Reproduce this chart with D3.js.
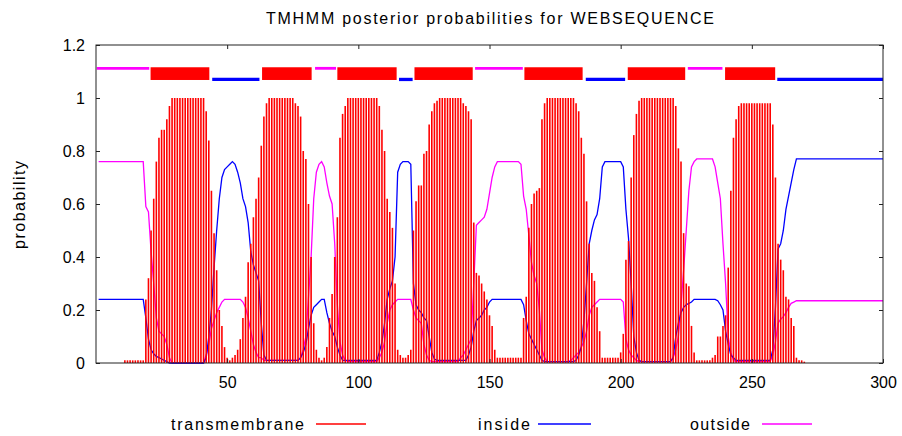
<!DOCTYPE html>
<html>
<head>
<meta charset="utf-8">
<script src="https://cdn.jsdelivr.net/npm/d3@7"></script>
<style>
body { margin: 0; background: #fff; }
svg { display: block; }
text { font-family: "Liberation Sans", Arial, sans-serif; fill: #000; }
</style>
</head>
<body>
<svg width="902" height="436"></svg>
<script>
// posterior probabilities per residue (1..300)
var tm = [
  0,0,0,0,0,0,0,0,0,0,
  .01,.01,.01,.01,.01,.01,.01,.01,.24,.32,
  .5,.62,.76,.85,.88,.88,.92,.97,1,1,
  1,1,1,1,1,1,1,1,1,1,
  1,.95,.84,.65,.49,.35,.2,.14,.06,.02,
  .01,.02,.03,.05,.09,.17,.25,.38,.45,.55,
  .62,.7,.82,.93,.98,1,1,1,1,1,
  1,1,1,1,1,.98,.97,.93,.8,.77,
  .6,.4,.15,.05,.02,.01,.02,.06,.17,.26,
  .4,.55,.85,.94,.97,1,1,1,1,1,
  1,1,1,1,1,1,1,.97,.88,.8,
  .62,.57,.51,.3,.05,.03,.02,.02,.03,.05,
  .5,.61,.67,.67,.79,.8,.9,.95,.98,.99,
  1,1,1,1,1,1,1,1,1,.98,
  .97,.95,.92,.53,.34,.33,.3,.27,.24,.18,
  .14,.05,.02,.02,.02,.02,.02,.02,.02,.02,
  .02,.02,.17,.25,.51,.6,.64,.65,.66,.92,
  .98,1,1,1,1,1,1,1,1,1,
  1,1,.98,.95,.85,.79,.61,.45,.34,.31,
  .21,.12,.02,.02,.02,.02,.02,.02,.02,.04,
  .11,.39,.46,.7,.86,.94,.99,1,1,1,
  1,1,1,1,1,1,1,1,1,1,
  .97,.81,.76,.49,.3,.29,.14,.04,.01,.01,
  .01,.01,.01,.01,.02,.03,.1,.1,.14,.18,
  .36,.65,.85,.92,.97,.98,.98,.98,.98,.98,
  .98,.98,.98,.98,.98,.98,.98,.9,.7,.45,
  .39,.35,.25,.24,.17,.14,.02,.01,.01,.005,
  0,0,0,0,0,0,0,0,0,0,
  0,0,0,0,0,0,0,0,0,0,
  0,0,0,0,0,0,0,0,0,0
];
var inside = [
  .24,.24,.24,.24,.24,.24,.24,.24,.24,.24,
  .24,.24,.24,.24,.24,.24,.24,.24,.17,.09,
  .05,.035,.025,.02,.015,.01,.005,0,0,0,
  0,0,0,0,0,0,0,0,0,0,
  0,.02,.1,.2,.36,.5,.62,.7,.73,.74,
  .75,.76,.75,.72,.68,.62,.59,.53,.42,.37,
  .34,.31,.15,.03,.01,.01,.01,.01,.01,.01,
  .01,.01,.01,.01,.01,.01,.01,.02,.04,.07,
  .13,.18,.21,.22,.23,.24,.24,.19,.15,.12,
  .1,.06,.03,.01,.01,.01,.01,.01,.01,.01,
  .01,.01,.01,.01,.01,.01,.01,.04,.08,.15,
  .24,.28,.31,.4,.72,.75,.76,.76,.76,.75,
  .3,.22,.2,.19,.17,.16,.1,.04,.015,.01,
  .01,.01,.01,.01,.01,.01,.01,.01,.01,.01,
  .01,.03,.06,.12,.16,.17,.18,.2,.21,.23,
  .24,.24,.24,.24,.24,.24,.24,.24,.24,.24,
  .24,.24,.22,.16,.11,.09,.07,.05,.03,.01,
  .005,.005,.005,.005,.005,.005,.005,.005,.005,.005,
  .005,.005,.01,.03,.06,.16,.3,.45,.5,.54,
  .56,.62,.74,.76,.76,.76,.76,.76,.76,.76,
  .74,.58,.47,.3,.1,.04,.01,.005,.005,.005,
  .005,.005,.005,.005,.005,.005,.005,.005,.005,.02,
  .1,.15,.19,.21,.22,.225,.23,.24,.24,.24,
  .24,.24,.24,.24,.24,.24,.235,.22,.2,.12,
  .07,.03,.02,.01,.01,.01,.01,.01,.01,.01,
  .01,.01,.01,.01,.01,.01,.01,.05,.21,.43,
  .45,.5,.58,.63,.68,.73,.77,.77,.77,.77,
  .77,.77,.77,.77,.77,.77,.77,.77,.77,.77,
  .77,.77,.77,.77,.77,.77,.77,.77,.77,.77,
  .77,.77,.77,.77,.77,.77,.77,.77,.77,.77
];
var outside = [
  .76,.76,.76,.76,.76,.76,.76,.76,.76,.76,
  .76,.76,.76,.76,.76,.76,.76,.76,.59,.57,
  .42,.3,.17,.12,.11,.1,.07,.02,0,0,
  0,0,0,0,0,0,0,0,0,0,
  0,.03,.07,.13,.16,.19,.21,.23,.24,.24,
  .24,.24,.24,.24,.24,.23,.21,.17,.12,.07,
  .04,.02,.02,.01,.01,.01,.01,.01,.01,.01,
  .01,.01,.01,.01,.01,.01,.01,.02,.05,.1,
  .25,.4,.62,.72,.75,.76,.74,.68,.63,.6,
  .45,.22,.08,.03,.01,.005,.005,.005,.005,.005,
  .005,.005,.005,.005,.005,.005,.005,.02,.04,.08,
  .15,.2,.22,.23,.24,.24,.24,.24,.24,.24,
  .2,.17,.16,.15,.07,.03,.01,.005,.005,.005,
  .005,.005,.005,.005,.005,.005,.005,.005,.02,.03,
  .05,.07,.09,.3,.52,.53,.54,.55,.58,.64,
  .7,.74,.76,.76,.76,.76,.76,.76,.76,.76,
  .76,.75,.63,.58,.48,.38,.33,.3,.2,.05,
  .02,.005,.005,.005,.005,.005,.005,.005,.005,.005,
  .01,.02,.03,.04,.06,.08,.12,.18,.21,.22,
  .23,.24,.24,.24,.24,.24,.24,.24,.24,.24,
  .23,.09,.05,.03,.02,.01,.005,.005,.005,.005,
  .005,.005,.005,.005,.005,.005,.005,.005,.005,.02,
  .05,.1,.22,.35,.5,.65,.74,.76,.77,.77,
  .77,.77,.77,.77,.77,.74,.68,.62,.45,.3,
  .1,.04,.01,.005,.005,.005,.005,.005,.005,.005,
  .005,.005,.005,.005,.005,.005,.005,.03,.08,.15,
  .165,.175,.19,.21,.225,.23,.235,.235,.235,.235,
  .235,.235,.235,.235,.235,.235,.235,.235,.235,.235,
  .235,.235,.235,.235,.235,.235,.235,.235,.235,.235,
  .235,.235,.235,.235,.235,.235,.235,.235,.235,.235
];

// predicted topology drawn above the curves
var topoKind  = ["outside","TM","inside","TM","outside","TM","inside","TM","outside","TM","inside","TM","outside","TM","inside"];
var topoStart = [0.3, 20.8, 44.3, 63.3, 83.5, 92, 115.5, 121.4, 144.5, 163.3, 186.7, 202.7, 225.6, 239.8, 259.7];
var topoEnd   = [20.3, 43.2, 62.3, 82.2, 91.5, 114.6, 120.7, 143.6, 162.7, 185.5, 201.7, 224.6, 238.8, 258.9, 300];

var yTicks = [0, 0.2, 0.4, 0.6, 0.8, 1, 1.2];
var yTickLabels = ["0", "0.2", "0.4", "0.6", "0.8", "1", "1.2"];
var xTicks = [50, 100, 150, 200, 250, 300];

var legendNames = ["transmembrane", "inside", "outside"];
var colors = {TM: "#ff0000", inside: "#0000ff", outside: "#ff00ff"};

if (tm.length != 300 || inside.length != 300 || outside.length != 300)
  throw new Error("lengths " + tm.length + " " + inside.length + " " + outside.length);

var svg = d3.select("svg");
var pLeft = 96, pRight = 883, pTop = 45, pBottom = 363;

var x = d3.scaleLinear().domain([0, 300]).range([pLeft, pRight]);
var y = d3.scaleLinear().domain([0, 1.2]).range([pBottom, pTop]);

// title
svg.append("text")
  .attr("x", 490).attr("y", 24)
  .attr("text-anchor", "middle")
  .style("font-size", "16px")
  .attr("textLength", 448).attr("lengthAdjust", "spacing")
  .text("TMHMM posterior probabilities for WEBSEQUENCE");

// y label
svg.append("text")
  .attr("transform", "translate(25,205) rotate(-90)")
  .attr("text-anchor", "middle")
  .style("font-size", "16px")
  .attr("textLength", 88).attr("lengthAdjust", "spacing")
  .text("probability");

var line = d3.line()
  .x(function (d, i) { return x(i + 1); })
  .y(function (d) { return y(d); });

svg.append("path").datum(outside)
  .attr("d", line).attr("fill", "none")
  .attr("stroke", colors.outside).attr("stroke-width", 1.3);

svg.append("path").datum(inside)
  .attr("d", line).attr("fill", "none")
  .attr("stroke", colors.inside).attr("stroke-width", 1.3);

// TM impulses
var imp = tm.map(function (v, i) { return {pos: i + 1, v: v}; })
  .filter(function (d) { return d.v > 0; });
svg.selectAll("line.tm").data(imp).enter()
  .append("line")
  .attr("class", "tm")
  .attr("x1", function (d) { return x(d.pos); })
  .attr("x2", function (d) { return x(d.pos); })
  .attr("y1", y(0))
  .attr("y2", function (d) { return Math.min(y(d.v), y(0) - 1); })
  .attr("stroke", colors.TM)
  .attr("stroke-width", 1.6);

// topology bar
topoKind.forEach(function (k, i) {
  if (k == "TM") {
    svg.append("rect")
      .attr("x", x(topoStart[i])).attr("width", x(topoEnd[i]) - x(topoStart[i]))
      .attr("y", y(1.116)).attr("height", y(1.068) - y(1.116))
      .attr("fill", colors.TM);
  } else {
    var yy = k == "inside" ? y(1.07) : y(1.112);
    svg.append("line")
      .attr("x1", x(topoStart[i])).attr("x2", x(topoEnd[i]))
      .attr("y1", yy).attr("y2", yy)
      .attr("stroke", colors[k])
      .attr("stroke-width", k == "inside" ? 3.3 : 2.8);
  }
});

// axes (ticks inward, mirrored on top/right)
var gl = svg.append("g").attr("transform", "translate(" + pLeft + ",0)")
  .call(d3.axisLeft(y).tickValues(yTicks)
    .tickFormat(function (d, i) { return yTickLabels[i]; })
    .tickSize(-4).tickPadding(11));
var gr = svg.append("g").attr("transform", "translate(" + pRight + ",0)")
  .call(d3.axisRight(y).tickValues(yTicks).tickFormat("").tickSize(-4));
var gb = svg.append("g").attr("transform", "translate(0," + pBottom + ")")
  .call(d3.axisBottom(x).tickValues(xTicks).tickSize(-4).tickPadding(14));
var gt = svg.append("g").attr("transform", "translate(0," + pTop + ")")
  .call(d3.axisTop(x).tickValues(xTicks).tickFormat("").tickSize(-4));

[gl, gr, gb, gt].forEach(function (g) {
  g.select(".domain").remove();
  g.selectAll(".tick line").attr("stroke", "#222");
  g.selectAll("text").style("font-size", "16px")
    .style("font-family", "Liberation Sans, Arial, sans-serif").attr("fill", "#000");
});

svg.append("rect")
  .attr("x", pLeft).attr("y", pTop)
  .attr("width", pRight - pLeft).attr("height", pBottom - pTop)
  .attr("fill", "none").attr("stroke", "#222").attr("stroke-width", 1);

// legend
var legText = [[171, 133], [478, 52], [690, 60]];
var legLine = [[316, 366], [538, 591], [762, 812]];
var legColor = [colors.TM, colors.inside, colors.outside];
legendNames.forEach(function (n, i) {
  svg.append("text")
    .attr("x", legText[i][0]).attr("y", 430)
    .style("font-size", "16px")
    .attr("textLength", legText[i][1]).attr("lengthAdjust", "spacing")
    .text(n);
  svg.append("line")
    .attr("x1", legLine[i][0]).attr("x2", legLine[i][1])
    .attr("y1", 424).attr("y2", 424)
    .attr("stroke", legColor[i]).attr("stroke-width", 1.3);
});
</script>
</body>
</html>
